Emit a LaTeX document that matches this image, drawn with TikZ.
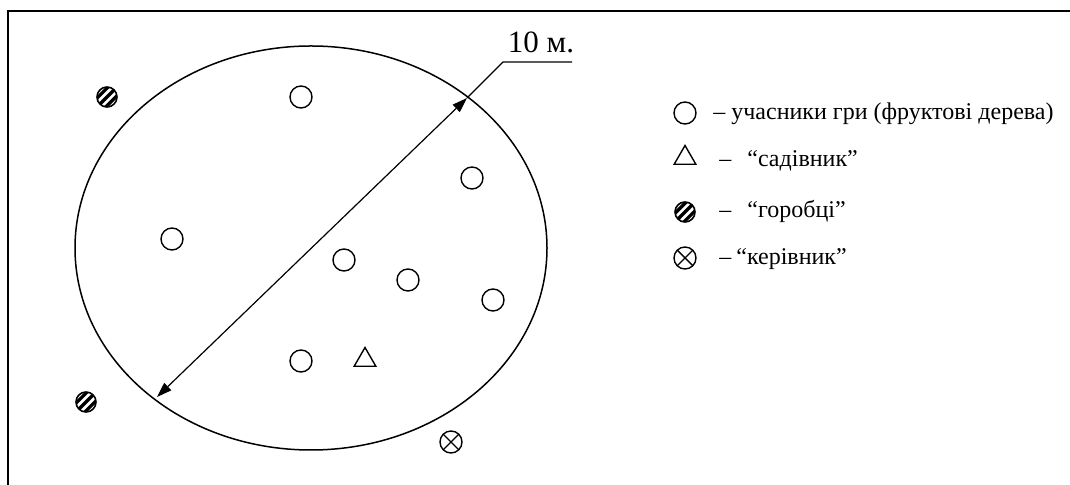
\documentclass[tikz,border=0pt]{standalone}
\usepackage{fontspec}
\setmainfont{Liberation Serif}
\usetikzlibrary{arrows.meta, shapes.geometric, calc}

\tikzset{
    tree/.style={draw, circle, minimum size=11pt, inner sep=0pt, line width=0.7pt},
    gardener/.style={draw, regular polygon, regular polygon sides=3, minimum size=12.5pt,
        inner sep=0pt, line width=0.7pt},
    sparrow/.style={draw, circle, minimum size=10pt, inner sep=0pt, line width=0.8pt,
        path picture={
            \foreach \d in {-3.1,0,3.1}
                \draw[line width=1.6pt]
                    ($(path picture bounding box.center)+(\d*0.707pt-6pt,-\d*0.707pt-6pt)$)
                    -- ++(12pt,12pt);
        }},
    leader/.style={draw, circle, minimum size=11pt, inner sep=0pt, line width=0.7pt,
        path picture={
            \draw[line width=0.7pt] (path picture bounding box.north west) -- (path picture bounding box.south east)
                (path picture bounding box.north east) -- (path picture bounding box.south west);
        }},
    legtext/.style={anchor=base west, inner sep=0pt, font=\fontsize{12}{14}\selectfont},
    dimarrow/.style={{Triangle[length=7.5pt,width=5pt]}-{Triangle[length=7.5pt,width=5pt]}, line width=0.6pt}
}

\begin{document}
\begin{tikzpicture}[x=0.5pt, y=-0.5pt]
    \useasboundingbox (0,0) rectangle (1070,485);

    % рамка
    \draw[line width=1pt] (8,485) -- (8,11) -- (1070,11);

    % майданчик
    \draw[line width=0.75pt] (311,248) ellipse [x radius=236, y radius=202];

    % діаметр 10 м.
    \coordinate (dimA) at (157,397);
    \coordinate (dimB) at (467,98);
    \coordinate (kink) at (503,62);
    \coordinate (shelf) at (572,62);
    \draw[dimarrow] (dimA) -- (dimB);
    \draw[line width=0.6pt] (dimB) -- (kink) -- (shelf);
    \node[anchor=base, inner sep=0pt, font=\fontsize{15.5}{18}\selectfont] (size) at (541,53) {10 м.};

    % учасники гри
    \node[tree] (t1) at (301,97) {};
    \node[tree] (t2) at (472,178) {};
    \node[tree] (t3) at (172,239) {};
    \node[tree] (t4) at (344,260) {};
    \node[tree] (t5) at (408,280) {};
    \node[tree] (t6) at (493,300) {};
    \node[tree] (t7) at (301,361) {};
    \node[gardener] (g) at (365,360) {};

    % горобці і керівник
    \node[sparrow] (s1) at (107,97) {};
    \node[sparrow] (s2) at (86,402) {};
    \node[leader] (k) at (451,442) {};

    % легенда
    \node[tree] (lt) at (685,113) {};
    \node[gardener] (lg) at (685,158) {};
    \node[sparrow] (ls) at (685,212) {};
    \node[leader] (lk) at (685,258) {};
    \node[legtext] (lt1) at (713,120) {– учасники гри (фруктові дерева)};
    \node[legtext] (lt2) at (719,167) {–\hspace{8pt}“садівник”};
    \node[legtext] (lt3) at (719,218) {–\hspace{8pt}“горобці”};
    \node[legtext] (lt4) at (719,265) {–\hspace{2.5pt}“керівник”};
\end{tikzpicture}
\end{document}
